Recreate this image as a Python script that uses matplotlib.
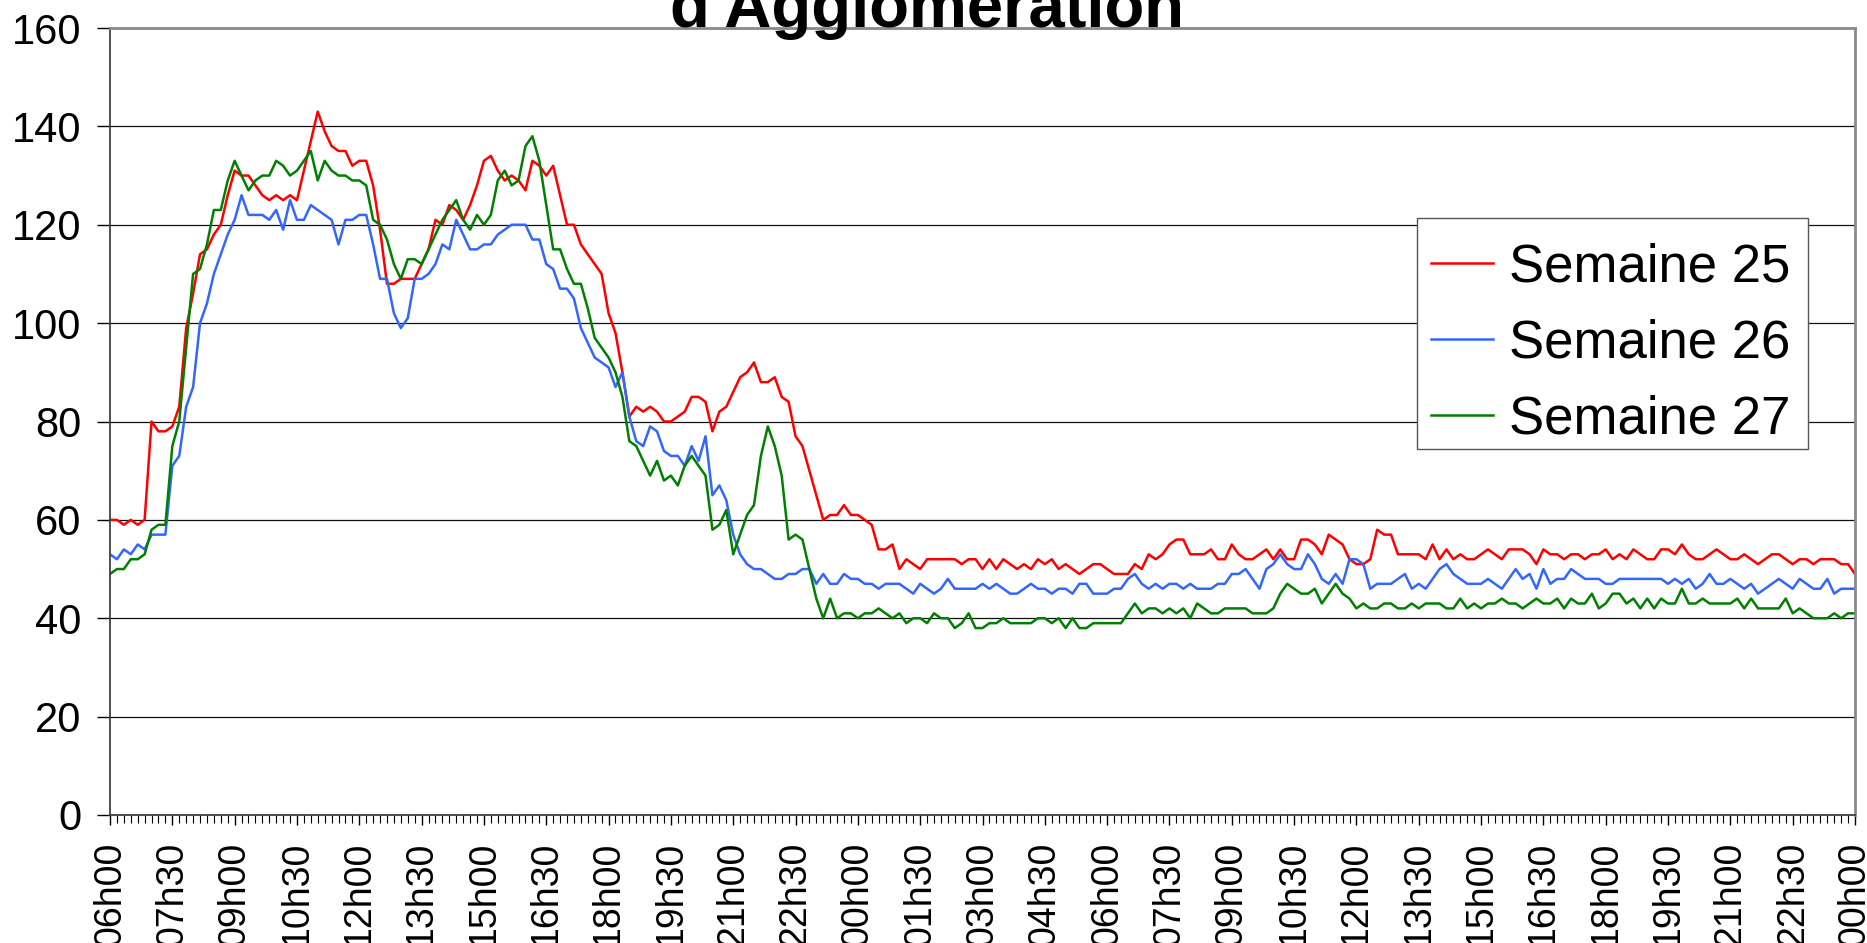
import matplotlib
matplotlib.use('Agg')
import matplotlib.pyplot as plt
import matplotlib.patches as patches
import numpy as np

plt.rcParams['font.family'] = ['Liberation Sans', 'DejaVu Sans']

# Data: one point every 10 minutes, 06h00 -> 00h00 the day after next
sem25 = [60, 60, 59, 60, 59, 60, 80, 78, 78, 79,
         83, 99, 106, 114, 115, 118, 120, 126, 131, 130,
         130, 128, 126, 125, 126, 125, 126, 125, 131, 137,
         143, 139, 136, 135, 135, 132, 133, 133, 128, 119,
         108, 108, 109, 109, 109, 112, 115, 121, 120, 124,
         123, 121, 124, 128, 133, 134, 131, 129, 130, 129,
         127, 133, 132, 130, 132, 126, 120, 120, 116, 114,
         112, 110, 102, 98, 90, 81, 83, 82, 83, 82,
         80, 80, 81, 82, 85, 85, 84, 78, 82, 83,
         86, 89, 90, 92, 88, 88, 89, 85, 84, 77,
         75, 70, 65, 60, 61, 61, 63, 61, 61, 60,
         59, 54, 54, 55, 50, 52, 51, 50, 52, 52,
         52, 52, 52, 51, 52, 52, 50, 52, 50, 52,
         51, 50, 51, 50, 52, 51, 52, 50, 51, 50,
         49, 50, 51, 51, 50, 49, 49, 49, 51, 50,
         53, 52, 53, 55, 56, 56, 53, 53, 53, 54,
         52, 52, 55, 53, 52, 52, 53, 54, 52, 54,
         52, 52, 56, 56, 55, 53, 57, 56, 55, 52,
         51, 51, 52, 58, 57, 57, 53, 53, 53, 53,
         52, 55, 52, 54, 52, 53, 52, 52, 53, 54,
         53, 52, 54, 54, 54, 53, 51, 54, 53, 53,
         52, 53, 53, 52, 53, 53, 54, 52, 53, 52,
         54, 53, 52, 52, 54, 54, 53, 55, 53, 52,
         52, 53, 54, 53, 52, 52, 53, 52, 51, 52,
         53, 53, 52, 51, 52, 52, 51, 52, 52, 52,
         51, 51, 49]

sem26 = [53, 52, 54, 53, 55, 54, 57, 57, 57, 71,
         73, 83, 87, 100, 104, 110, 114, 118, 121, 126,
         122, 122, 122, 121, 123, 119, 125, 121, 121, 124,
         123, 122, 121, 116, 121, 121, 122, 122, 116, 109,
         109, 102, 99, 101, 109, 109, 110, 112, 116, 115,
         121, 118, 115, 115, 116, 116, 118, 119, 120, 120,
         120, 117, 117, 112, 111, 107, 107, 105, 99, 96,
         93, 92, 91, 87, 90, 81, 76, 75, 79, 78,
         74, 73, 73, 71, 75, 72, 77, 65, 67, 64,
         57, 53, 51, 50, 50, 49, 48, 48, 49, 49,
         50, 50, 47, 49, 47, 47, 49, 48, 48, 47,
         47, 46, 47, 47, 47, 46, 45, 47, 46, 45,
         46, 48, 46, 46, 46, 46, 47, 46, 47, 46,
         45, 45, 46, 47, 46, 46, 45, 46, 46, 45,
         47, 47, 45, 45, 45, 46, 46, 48, 49, 47,
         46, 47, 46, 47, 47, 46, 47, 46, 46, 46,
         47, 47, 49, 49, 50, 48, 46, 50, 51, 53,
         51, 50, 50, 53, 51, 48, 47, 49, 47, 52,
         52, 51, 46, 47, 47, 47, 48, 49, 46, 47,
         46, 48, 50, 51, 49, 48, 47, 47, 47, 48,
         47, 46, 48, 50, 48, 49, 46, 50, 47, 48,
         48, 50, 49, 48, 48, 48, 47, 47, 48, 48,
         48, 48, 48, 48, 48, 47, 48, 47, 48, 46,
         47, 49, 47, 47, 48, 47, 46, 47, 45, 46,
         47, 48, 47, 46, 48, 47, 46, 46, 48, 45,
         46, 46, 46]

sem27 = [49, 50, 50, 52, 52, 53, 58, 59, 59, 75,
         80, 95, 110, 111, 116, 123, 123, 129, 133, 130,
         127, 129, 130, 130, 133, 132, 130, 131, 133, 135,
         129, 133, 131, 130, 130, 129, 129, 128, 121, 120,
         117, 112, 109, 113, 113, 112, 115, 118, 121, 123,
         125, 121, 119, 122, 120, 122, 129, 131, 128, 129,
         136, 138, 133, 124, 115, 115, 111, 108, 108, 103,
         97, 95, 93, 90, 85, 76, 75, 72, 69, 72,
         68, 69, 67, 71, 73, 71, 69, 58, 59, 62,
         53, 57, 61, 63, 73, 79, 75, 69, 56, 57,
         56, 50, 44, 40, 44, 40, 41, 41, 40, 41,
         41, 42, 41, 40, 41, 39, 40, 40, 39, 41,
         40, 40, 38, 39, 41, 38, 38, 39, 39, 40,
         39, 39, 39, 39, 40, 40, 39, 40, 38, 40,
         38, 38, 39, 39, 39, 39, 39, 41, 43, 41,
         42, 42, 41, 42, 41, 42, 40, 43, 42, 41,
         41, 42, 42, 42, 42, 41, 41, 41, 42, 45,
         47, 46, 45, 45, 46, 43, 45, 47, 45, 44,
         42, 43, 42, 42, 43, 43, 42, 42, 43, 42,
         43, 43, 43, 42, 42, 44, 42, 43, 42, 43,
         43, 44, 43, 43, 42, 43, 44, 43, 43, 44,
         42, 44, 43, 43, 45, 42, 43, 45, 45, 43,
         44, 42, 44, 42, 44, 43, 43, 46, 43, 43,
         44, 43, 43, 43, 43, 44, 42, 44, 42, 42,
         42, 42, 44, 41, 42, 41, 40, 40, 40, 41,
         40, 41, 41]

tick_labels = ['06h00', '07h30', '09h00', '10h30', '12h00', '13h30', '15h00',
               '16h30', '18h00', '19h30', '21h00', '22h30', '00h00', '01h30',
               '03h00', '04h30', '06h00', '07h30', '09h00', '10h30', '12h00',
               '13h30', '15h00', '16h30', '18h00', '19h30', '21h00', '22h30',
               '00h00']
series_names = ['Semaine 25', 'Semaine 26', 'Semaine 27']
colors = ['#ff0000', '#3366ff', '#008000']

W, H = 1867, 943
fig = plt.figure(figsize=(W / 100, H / 100), dpi=100)
ax = fig.add_axes([110 / W, 1 - 815 / H, 1745 / W, 787 / H])

x = np.arange(len(sem25))
for vals, name, c in zip([sem25, sem26, sem27], series_names, colors):
    ax.plot(x, vals, color=c, lw=1.8, label=name)

ax.set_xlim(0, len(sem25) - 1)
ax.set_ylim(0, 160)
ax.set_yticks(np.arange(0, 161, 20))
ax.set_xticks(np.arange(0, len(sem25), 9))
ax.set_xticklabels(tick_labels, rotation=90)
ax.set_xticks(x, minor=True)

ax.yaxis.grid(True, color='#111111', lw=0.9)
ax.set_axisbelow(True)

ax.tick_params(axis='y', labelsize=30, length=9.5, width=1, pad=11, colors='black')
ax.tick_params(axis='x', which='major', labelsize=27, length=7, width=1, pad=12)
ax.tick_params(axis='x', which='minor', length=6, width=0.8)

for s in ['left', 'bottom']:
    ax.spines[s].set_color('#404040')
    ax.spines[s].set_linewidth(1.3)
for s in ['top', 'right']:
    ax.spines[s].set_color('#8a8a8a')
    ax.spines[s].set_linewidth(2)

# legend box drawn by hand so the rows can sit where they do in the original
box = patches.Rectangle((1417 / W, 1 - 449 / H), 391 / W, 231 / H,
                        transform=fig.transFigure, facecolor='white',
                        edgecolor='#555555', linewidth=1, zorder=4)
fig.patches.append(box)

handles, labels = ax.get_legend_handles_labels()
fig.legend(handles, labels, loc='upper right',
           bbox_to_anchor=(1804 / W, 1 - 229 / H), fontsize=38, frameon=False,
           borderpad=0.25, labelspacing=0.5, handlelength=1.17,
           handletextpad=0.32, borderaxespad=0)

# title is cut off at the top of the image, only its last line shows
fig.text(927 / W, 1 - 27 / H, "d'Agglomération", ha='center', va='baseline',
         fontsize=47, fontweight='bold')

fig.savefig('out.png', dpi=100)
